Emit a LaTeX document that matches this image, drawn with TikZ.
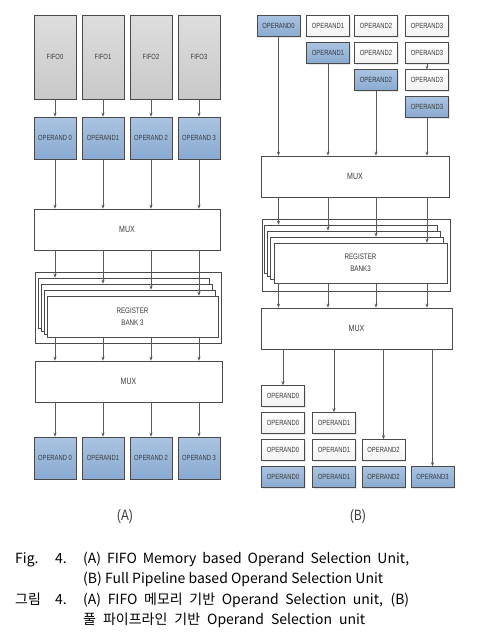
\documentclass[tikz,border=0pt]{standalone}
\usepackage{fontspec}
\usetikzlibrary{arrows.meta,shadows}
\newfontfamily\boxfont[FakeStretch=0.78]{Liberation Sans}
\newfontfamily\capfont{Noto Sans CJK KR}
\definecolor{edge}{HTML}{4A4A4A}
\definecolor{wire}{HTML}{5A5A5A}
\definecolor{txt}{HTML}{3A3A3A}
\definecolor{bluetop}{HTML}{AAC4E1}
\definecolor{bluebot}{HTML}{8AAAD1}
\definecolor{graytop}{HTML}{DEDEDE}
\definecolor{graybot}{HTML}{C9C9C9}
\tikzset{
  box/.style={draw=edge, line width=0.7pt, inner sep=0pt, align=center, text=txt,
    font=\boxfont\fontsize{7.5}{9}\selectfont,
    drop shadow={shadow xshift=1pt, shadow yshift=-1pt, opacity=0.18}},
  fifo/.style={box, top color=graytop, bottom color=graybot, minimum width=42pt, minimum height=84pt},
  opA/.style={box, top color=bluetop, bottom color=bluebot, minimum width=42pt, minimum height=42pt},
  opb/.style={box, top color=bluetop, bottom color=bluebot, minimum width=43pt, minimum height=21pt},
  opw/.style={box, top color=white, bottom color=gray!10, minimum width=43pt, minimum height=21pt},
  muxbox/.style={box, fill=white, font=\boxfont\fontsize{9}{11}\selectfont},
  bankbox/.style={draw=edge, line width=0.7pt, fill=white, inner sep=0pt},
  sheet/.style={draw=edge, line width=0.7pt, fill=white, inner sep=0pt},
  banktxt/.style={inner sep=0pt, align=center, text=txt, font=\boxfont\fontsize{8}{12}\selectfont},
  conn/.style={draw=wire, line width=0.6pt, -{Stealth[length=4pt,width=3.2pt]}},
  sublabel/.style={inner sep=0pt, text=txt, font=\boxfont\fontsize{15}{18}\selectfont},
  captxt/.style={anchor=base west, inner sep=0pt, font=\capfont\fontsize{14}{18}\selectfont}
}
\begin{document}
\begin{tikzpicture}[x=1pt,y=-1pt]
\useasboundingbox (0,0) rectangle (480,640);
% ================= (A) =================
\foreach \i/\x/\fl/\ol in {0/55/FIFO0/OPERAND 0,1/103/FIFO1/OPERAND1,2/151/FIFO2/OPERAND 2,3/199/FIFO3/OPERAND 3} {
  \node[fifo] (fA\i) at (\x,57) {\fl};
  \node[opA] (oA\i) at (\x,138) {\ol};
  \node[opA] (bA\i) at (\x,458) {\ol};
}
\node[muxbox, minimum width=186pt, minimum height=41pt] (muxA1) at (127,229.5) {MUX};
\node[bankbox, minimum width=186pt, minimum height=71pt] (bankA) at (128,307.5) {};
\foreach \k in {0,...,3} {
  \pgfmathsetmacro\cx{123.5+3*\k}
  \pgfmathsetmacro\cy{303+4.5*\k}
  \pgfmathsetmacro\hh{50-3*\k}
  \node[sheet, minimum width=171pt, minimum height=\hh pt] (sA\k) at (\cx,\cy) {};
}
\node[banktxt] (tA) at (sA3.center) {REGISTER\\BANK 3};
\node[muxbox, minimum width=187pt, minimum height=41pt] (muxA2) at (128.5,381.5) {MUX};
\foreach \i in {0,...,3} {
  \draw[conn] (fA\i) -- (oA\i);
  \draw[conn] (oA\i.south) -- (oA\i.south |- muxA1.north);
  \draw[conn] (oA\i.south |- muxA1.south) -- (oA\i.south |- sA\i.north);
  \draw[conn] (oA\i.south |- sA3.south) -- (oA\i.south |- muxA2.north);
  \draw[conn] (oA\i.south |- muxA2.south) -- (bA\i);
}
\node[sublabel] (labA) at (125,517) {(A)};
% ================= (B) =================
% top stack
\node[opb] (t00) at (278.5,26) {OPERAND0};
\node[opw] (t10) at (328,26) {OPERAND1};
\node[opb] (t11) at (328,53) {OPERAND1};
\node[opw] (t20) at (376,26) {OPERAND2};
\node[opw] (t21) at (376,53) {OPERAND2};
\node[opb] (t22) at (376,80) {OPERAND2};
\node[opw] (t30) at (427,26) {OPERAND3};
\node[opw] (t31) at (427,53) {OPERAND3};
\node[opw] (t32) at (427,80) {OPERAND3};
\node[opb] (t33) at (427,107) {OPERAND3};
\draw[draw=wire, line width=0.6pt, -{Stealth[length=3pt,width=3pt]}] (t31) -- (t32);
\node[muxbox, minimum width=188pt, minimum height=41pt] (muxB1) at (355,176.5) {MUX};
\node[bankbox, minimum width=188pt, minimum height=72pt] (bankB) at (356,255) {};
\foreach \k in {0,...,3} {
  \pgfmathsetmacro\cx{350.5+3.33*\k}
  \pgfmathsetmacro\cy{249+4.67*\k}
  \pgfmathsetmacro\hh{48-2.67*\k}
  \node[sheet, minimum width=173pt, minimum height=\hh pt] (sB\k) at (\cx,\cy) {};
}
\node[banktxt] (tB) at (sB3.center) {REGISTER\\BANK3};
\node[muxbox, minimum width=191pt, minimum height=41pt] (muxB2) at (356.5,328.5) {MUX};
% bottom stack
\node[opw] (u0a) at (283,396) {OPERAND0};
\node[opw] (u0b) at (283,423) {OPERAND0};
\node[opw] (u0c) at (283,450) {OPERAND0};
\node[opb] (u0d) at (283,477) {OPERAND0};
\node[opw] (u1b) at (334,423) {OPERAND1};
\node[opw] (u1c) at (334,450) {OPERAND1};
\node[opb] (u1d) at (334,477) {OPERAND1};
\node[opw] (u2c) at (383.5,450) {OPERAND2};
\node[opb] (u2d) at (383.5,477) {OPERAND2};
\node[opb] (u3d) at (432.5,477) {OPERAND3};
\foreach \i/\top in {0/t00,1/t11,2/t22,3/t33} {
  \draw[conn] (\top.south) -- (\top.south |- muxB1.north);
  \draw[conn] (\top.south |- muxB1.south) -- (\top.south |- sB\i.north);
  \draw[conn] (\top.south |- sB3.south) -- (\top.south |- muxB2.north);
}
\foreach \b in {u0a,u1b,u2c,u3d} {
  \draw[conn] (\b.north |- muxB2.south) -- (\b.north);
}
\node[sublabel] (labB) at (358,517) {(B)};
% ================= caption =================
\node[captxt] (c1a) at (15,563) {Fig.};
\node[captxt] (c1b) at (55,563) {4.};
\node[captxt] (c1c) at (83,563) {\makebox[326pt][s]{(A) FIFO Memory based Operand Selection Unit,}};
\node[captxt] (c2c) at (83,583) {\makebox[300pt][s]{(B) Full Pipeline based Operand Selection Unit}};
\node[captxt] (c3a) at (15,604) {그림};
\node[captxt] (c3b) at (55,604) {4.};
\node[captxt] (c3c) at (83,604) {\makebox[326pt][s]{(A) FIFO 메모리 기반 Operand Selection unit, (B)}};
\node[captxt] (c4c) at (83,624) {\makebox[282pt][s]{풀 파이프라인 기반 Operand Selection unit}};
\end{tikzpicture}
\end{document}
